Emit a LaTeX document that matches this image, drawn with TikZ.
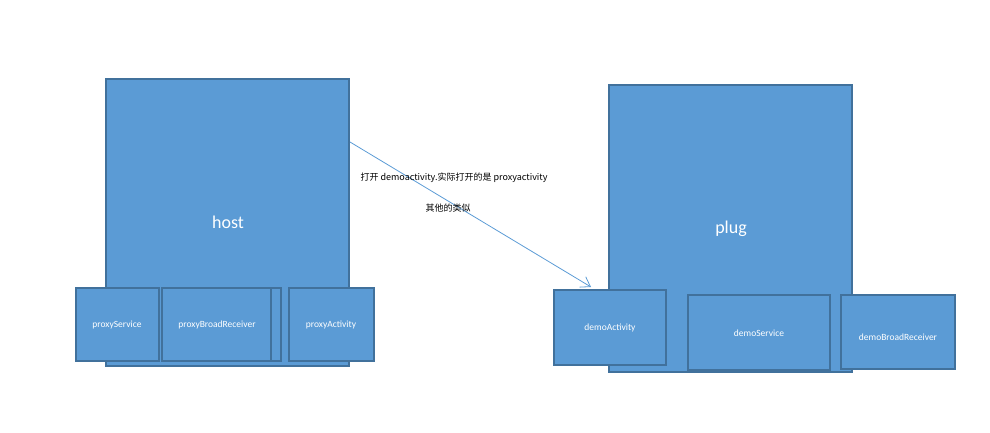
\documentclass[tikz,border=0pt]{standalone}
\usepackage{fontspec}
\setmainfont{Carlito}
\newfontfamily\cjk{Noto Sans CJK SC}
\usetikzlibrary{arrows.meta}
\definecolor{boxfill}{HTML}{5B9BD5}
\definecolor{boxline}{HTML}{41719C}
\begin{document}
\begin{tikzpicture}[x=1pt,y=-1pt,
    box/.style={draw=boxline,fill=boxfill,line width=1.5pt},
    bigtext/.style={text=white,font=\fontsize{18}{20}\selectfont},
    smalltext/.style={text=white,font=\fontsize{9.5}{11}\selectfont},
    note/.style={font=\cjk\fontsize{9}{10}\selectfont}]
    \useasboundingbox (0,0) rectangle (990,433);
    % host side
    \draw[box] (106,79) rectangle (349,366);
    \node[bigtext] (host) at (228,222) {host};
    \draw[box] (76,288) rectangle (159,361);
    \node[smalltext] (pservice) at (117,325) {proxyService};
    \draw[box] (162,288) rectangle (281,361);
    \draw[box] (162,288) rectangle (271,361);
    \node[smalltext] (preceiver) at (217,325) {proxyBroadReceiver};
    \draw[box] (289,288) rectangle (374,361);
    \node[smalltext] (pactivity) at (331,325) {proxyActivity};
    % plug side
    \draw[box] (609,85) rectangle (852,372);
    \node[bigtext] (plug) at (731,229) {plug};
    \draw[box] (554,290) rectangle (666,365);
    \node[smalltext] (dactivity) at (610,328) {demoActivity};
    \draw[box] (688,295) rectangle (830,370);
    \node[smalltext] (dservice) at (759,333) {demoService};
    \draw[box] (841,295) rectangle (955,369);
    \node[smalltext] (dreceiver) at (898,337) {demoBroadReceiver};
    % arrow and notes
    \coordinate (from) at (350,142);
    \coordinate (to) at (591,287);
    \draw[boxfill,line width=0.8pt,-{Straight Barb[length=9pt,width=12pt]}] (from) -- (to);
    \node[note] (n1) at (454,178) {打开 demoactivity.实际打开的是 proxyactivity};
    \node[note] (n2) at (448,208) {其他的类似};
\end{tikzpicture}
\end{document}
